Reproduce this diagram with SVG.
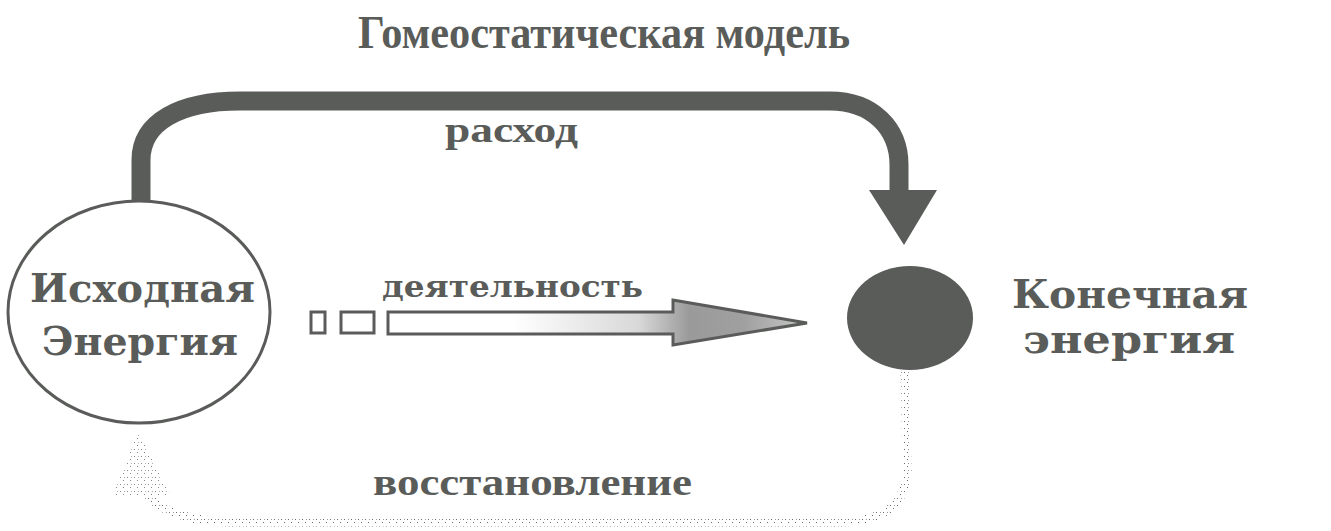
<svg xmlns="http://www.w3.org/2000/svg" width="1331" height="531" viewBox="0 0 1331 531">
  <style>
    .ink { fill: #5a5c5a; }
    .title { font-family: "Liberation Serif", "DejaVu Serif", serif; font-weight: bold; fill: #5a5c5a; }
    .wide { font-family: "DejaVu Serif", "Liberation Serif", serif; font-weight: bold; fill: #5a5c5a; }
  </style>
  <defs>
    <linearGradient id="arrowFill" gradientUnits="userSpaceOnUse" x1="387" y1="0" x2="807" y2="0">
      <stop offset="0" stop-color="#ffffff"/>
      <stop offset="0.3" stop-color="#ffffff"/>
      <stop offset="0.6" stop-color="#d8d8d8"/>
      <stop offset="0.72" stop-color="#9a9a9a"/>
      <stop offset="0.85" stop-color="#a0a0a0"/>
      <stop offset="1" stop-color="#c8c8c8"/>
    </linearGradient>
    <pattern id="stip" width="7" height="7" patternUnits="userSpaceOnUse">
      <rect x="1" y="1" width="1" height="1" fill="#6a6a6a"/>
      <rect x="4" y="4" width="1" height="1" fill="#6a6a6a"/>
      <rect x="5" y="1" width="1" height="1" fill="#9a9a9a"/>
    </pattern>
  </defs>
  <rect width="1331" height="531" fill="#ffffff"/>

  <text class="title" x="358" y="48" font-size="46" textLength="492" lengthAdjust="spacingAndGlyphs">Гомеостатическая модель</text>

  <g id="connectors">
    <!-- расход -->
    <path d="M141,202 L141,160 C141,122 180,101 240,101 L830,101 C872,101 899,128 899,165 L899,192" fill="none" stroke="#5a5c5a" stroke-width="19"/>
    <polygon class="ink" points="869,190 937,190 904,245"/>
    <text class="title" x="445" y="142" font-size="36" textLength="133" lengthAdjust="spacingAndGlyphs">расход</text>

    <!-- деятельность -->
    <rect x="311" y="312" width="14" height="21" fill="#ffffff" stroke="#5a5c5a" stroke-width="3"/>
    <rect x="341" y="312" width="33" height="21" fill="#ffffff" stroke="#5a5c5a" stroke-width="3"/>
    <polygon points="388,312 673,312 673,300 807,323 673,345 673,334 388,334" fill="url(#arrowFill)" stroke="#5a5c5a" stroke-width="3" stroke-linejoin="miter"/>
    <text class="wide" x="382" y="297" font-size="29" textLength="261" lengthAdjust="spacingAndGlyphs">деятельность</text>

    <!-- восстановление -->
    <path d="M905,372 L907,470 C907,505 880,522 840,522 L230,522 C190,522 160,510 145,495" fill="none" stroke="url(#stip)" stroke-width="9"/>
    <polygon points="138,432 112,497 172,497" fill="url(#stip)" opacity="0.8"/>
    <text class="title" x="373" y="495" font-size="37" textLength="319" lengthAdjust="spacingAndGlyphs">восстановление</text>
  </g>

  <g id="start">
    <ellipse cx="139" cy="312" rx="131" ry="111" fill="#ffffff" stroke="#5a5c5a" stroke-width="3"/>
    <text class="wide" x="30" y="302" font-size="40" textLength="225" lengthAdjust="spacingAndGlyphs">Исходная</text>
    <text class="wide" x="42" y="355" font-size="40" textLength="196" lengthAdjust="spacingAndGlyphs">Энергия</text>
  </g>

  <g id="end">
    <ellipse class="ink" cx="910" cy="318" rx="63" ry="52"/>
    <text class="wide" x="1012" y="308" font-size="40" textLength="236" lengthAdjust="spacingAndGlyphs">Конечная</text>
    <text class="wide" x="1023" y="353" font-size="40" textLength="212" lengthAdjust="spacingAndGlyphs">энергия</text>
  </g>
</svg>
